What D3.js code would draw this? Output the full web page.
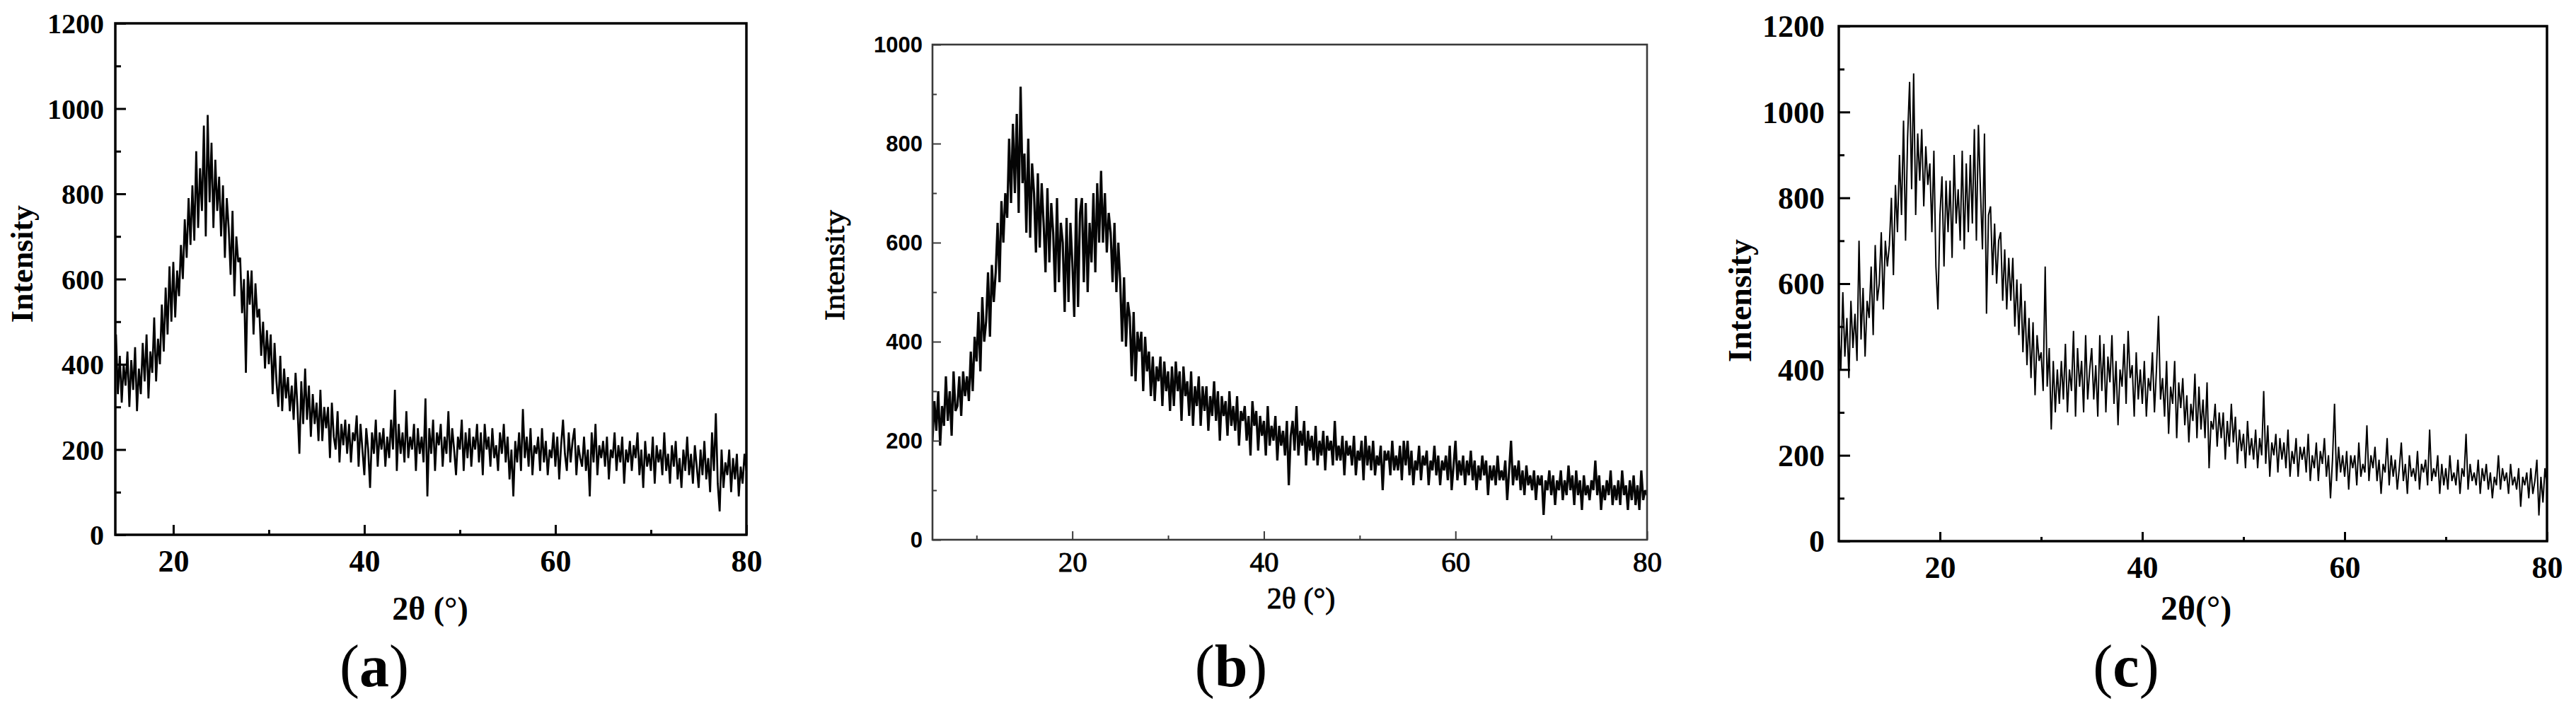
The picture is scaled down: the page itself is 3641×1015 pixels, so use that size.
<!DOCTYPE html>
<html><head><meta charset="utf-8">
<script src="https://cdn.jsdelivr.net/npm/d3@7"></script>
<style>html,body{margin:0;padding:0;background:#fff;} svg{display:block;}</style>
</head><body>
<svg id="chart" width="3641" height="1015"></svg>
<script>
// ---------- DATA ----------
// Panel (a): 2θ from 14.0 to 80.0, step 0.2
const aStart = 14.0, aStep = 0.2;
const aIntensity = [
470,330,420,310,400, 350,430,300,410,340, 440,290,390,330,450, 360,470,320,430,380,
510,360,460,400,540, 430,580,470,630,500, 640,510,620,560,680, 600,740,650,790,680,
820,690,900,720,860, 760,960,700,985,780, 920,720,880,760,840, 700,820,650,790,720,
610,760,560,700,640, 650,520,600,380,620, 540,620,470,590,510, 530,420,500,390,480,
400,470,330,450,360, 300,420,290,390,320, 370,290,350,270,380, 300,190,360,260,390,
270,350,230,330,260, 310,220,340,220,300, 250,300,180,310,230, 200,290,170,260,210,
270,190,260,170,240, 220,280,160,260,200, 140,250,200,110,240, 190,270,160,240,200,
250,160,230,180,270, 200,340,150,260,190, 240,170,290,180,230, 200,260,150,250,190,
230,170,320,90,250, 190,270,150,240,210, 260,160,230,190,290, 170,250,200,140,230,
200,270,150,240,180, 250,160,230,200,260, 170,240,140,260,200, 230,160,250,180,210,
150,240,190,260,170, 230,130,200,90,220, 170,240,150,295,180, 230,160,250,140,210,
190,230,150,250,170, 220,140,200,180,240, 160,230,130,210,270, 190,150,240,170,220,
250,140,210,180,160, 230,150,200,90,240, 170,260,140,210,180, 220,160,230,130,200,
180,240,150,210,170, 230,120,200,170,220, 150,210,180,240,140, 200,110,220,160,190,
150,230,120,210,170, 200,140,240,150,190, 120,210,160,220,130, 180,110,200,150,230,
140,190,120,210,160, 110,200,140,220,130, 180,100,240,150,285, 120,55,200,110,170,
140,200,100,180,130, 190,90,160,120,190, 150
];

// Panel (b): 2θ from 5.4 to 80.0, step 0.2
const bStart = 5.4, bStep = 0.2;
const bIntensity = [
200,280,220,
300,190,270,230,330, 240,300,210,340,260, 270,330,250,340,290, 330,280,380,300,410,
360,460,340,490,400, 440,540,410,555,480, 540,640,520,684,600, 700,650,810,680,840,
700,860,660,915,720, 780,620,810,610,760, 700,580,740,590,720, 640,540,710,560,680,
620,500,690,520,640, 600,460,650,480,640, 560,450,690,470,660, 690,520,680,500,640,
560,700,540,720,600, 745,600,700,580,660, 620,520,640,500,600, 520,400,530,390,480,
450,330,460,320,420, 380,420,300,410,340, 380,290,370,280,350, 320,370,270,360,300,
340,260,350,270,360, 300,340,240,350,290, 320,250,340,230,310, 270,330,230,310,260,
310,220,290,250,320, 240,300,200,290,250, 280,210,300,230,270, 220,290,190,260,240,
270,200,250,170,280, 230,260,180,250,210, 240,170,270,190,230, 200,250,160,230,190,
220,170,240,110,210, 240,180,270,170,220, 190,240,150,220,180, 210,160,230,150,200,
170,220,140,210,180, 200,150,240,160,190, 160,210,130,200,170, 190,150,210,130,180,
160,200,120,210,150, 190,140,200,130,170, 150,190,100,180,160, 180,130,200,140,170,
140,190,120,200,150, 200,130,180,110,160, 140,190,120,170,150, 180,110,160,140,190,
130,170,110,160,140, 170,120,190,100,150, 200,120,160,130,170, 110,160,130,180,120,
160,100,150,120,170, 130,160,90,150,120, 150,110,170,120,140, 120,160,80,140,200,
110,150,120,160,100, 140,90,150,110,130, 100,140,80,130,110, 130,50,120,100,140,
90,130,70,120,100, 140,80,120,90,150, 100,130,70,140,90, 120,60,130,90,110,
80,120,100,160,90, 130,60,110,80,120, 90,140,70,110,80, 120,70,140,90,110,
60,120,80,130,70, 110,60,140,80,100, 90
];

// Panel (c): 2θ from 10.0 to 80.0, step 0.2
const cStart = 10.0, cStep = 0.2;
const cIntensity = [
490,400,580,430,520, 380,560,450,530,420, 700,470,590,430,560, 520,640,480,690,560,
600,720,540,700,640, 690,800,620,830,720, 900,760,980,700,940, 1070,820,1090,760,950,
840,960,780,920,830, 880,720,910,640,540, 760,850,640,840,720, 840,660,900,740,820,
700,910,680,880,720, 900,740,960,700,970, 820,680,950,530,760, 780,620,740,600,700,
720,560,680,540,660, 560,660,500,610,480, 600,440,560,410,520, 380,510,340,480,420,
440,350,640,360,450, 260,420,300,400,320, 420,330,460,300,400, 350,490,290,450,360,
420,300,480,330,400, 450,330,410,290,480, 350,460,300,430,370, 480,320,420,270,400,
360,460,320,490,380, 410,290,440,330,400, 320,420,290,380,350, 440,300,400,525,330,
380,290,420,250,360, 320,420,240,370,310, 380,270,340,230,320, 280,390,240,360,260,
330,240,370,170,280, 260,320,220,300,240, 300,190,280,220,320, 230,290,180,260,210,
250,170,280,200,240, 190,260,170,240,200, 350,180,270,150,230, 200,250,160,240,190,
230,170,260,150,210, 180,240,150,220,190, 220,160,250,140,200, 170,230,140,210,180,
240,150,200,100,190, 320,140,220,160,200, 150,210,120,200,170, 200,130,230,150,180,
160,270,140,200,170, 220,140,190,110,180, 160,240,130,200,150, 190,120,170,230,140,
180,110,200,150,170, 140,210,120,180,160, 190,130,260,140,170, 150,200,110,180,130,
170,120,200,140,160, 130,190,110,170,150, 250,120,180,140,160, 130,190,110,170,140,
180,120,160,100,150, 130,200,120,170,140, 160,110,180,130,150, 120,170,80,150,130,
160,100,170,110,140, 190,60,150,90,170, 130
];

// Tick values
const aYMajor = [0,200,400,600,800,1000,1200], aYMinor = [100,300,500,700,900,1100];
const bYMajor = [0,200,400,600,800,1000],     bYMinor = [100,300,500,700,900];
const cYMajor = [0,200,400,600,800,1000,1200], cYMinor = [100,300,500,700,900,1100];
const aXMajor = [20,40,60,80], aXMinor = [30,50,70];
const bXMajor = [20,40,60,80], bXMinor = [10,30,50,70];
const cXMajor = [20,40,60,80], cXMinor = [30,50,70];
const panelLetters = ["a","b","c"];
const yTitles = ["Intensity","Intensity","Intensity"];
const xTitles = ["2θ (°)","2θ (°)","2θ(°)"];

// ---------- LAYOUT / STYLE ----------
const SERIF = "'Liberation Serif','Times New Roman',serif";
const SANS = "'Liberation Sans',Arial,sans-serif";
const panels = [
  { id:"a", values:aIntensity, start:aStart, step:aStep, xDomain:[13.93,80], yDomain:[0,1200],
    box:{l:163,t:33,r:1055,b:756}, yMajor:aYMajor, yMinor:aYMinor, xMajor:aXMajor, xMinor:aXMinor,
    frameColor:"#000", frameW:3.5, lineColor:"#000", lineW:2.7,
    majorLen:15, minorLen:8, xMajorLen:14, xMinorLen:7, tickW:3,
    yTickFont:{f:SERIF,s:40,w:"bold"}, yPad:16, xTickFont:{f:SERIF,s:44,w:"bold"}, xBase:52,
    yTitle:{x:46,y:373,s:44,w:"bold",f:SERIF}, xTitle:{x:608,y:862,s:46,w:"bold",f:SERIF},
    letter:{x:529,y:950} },
  { id:"b", values:bIntensity, start:bStart, step:bStep, xDomain:[5.4,80], yDomain:[0,1000],
    box:{l:1318,t:63,r:2328,b:763}, yMajor:bYMajor, yMinor:bYMinor, xMajor:bXMajor, xMinor:bXMinor,
    frameColor:"#3a3a3a", frameW:2.6, lineColor:"#050505", lineW:3.2,
    majorLen:12, minorLen:6, xMajorLen:12, xMinorLen:6, tickW:2,
    yTickFont:{f:SANS,s:31,w:"bold"}, yPad:14, xTickFont:{f:SERIF,s:41,w:"normal",stroke:0.9}, xBase:45,
    yTitle:{x:1193,y:375,s:40,w:"normal",f:SERIF,stroke:0.9,len:156}, xTitle:{x:1839,y:847,s:42,w:"normal",f:SERIF,stroke:0.9},
    letter:{x:1740,y:950} },
  { id:"c", values:cIntensity, start:cStart, step:cStep, xDomain:[10,80], yDomain:[0,1200],
    box:{l:2599,t:37,r:3600,b:765}, yMajor:cYMajor, yMinor:cYMinor, xMajor:cXMajor, xMinor:cXMinor,
    frameColor:"#000", frameW:3.5, lineColor:"#000", lineW:2.0,
    majorLen:16, minorLen:8, xMajorLen:13, xMinorLen:6, tickW:3,
    yTickFont:{f:SERIF,s:44,w:"bold"}, yPad:20, xTickFont:{f:SERIF,s:44,w:"bold"}, xBase:52,
    yTitle:{x:2475,y:425,s:46,w:"bold",f:SERIF}, xTitle:{x:3104,y:862,s:48,w:"bold",f:SERIF},
    letter:{x:3005,y:950} }
];

const svg = d3.select("#chart");
svg.append("rect").attr("width",3641).attr("height",1015).attr("fill","#fff");

function styleText(sel, font) {
  sel.attr("font-family", font.f).attr("font-size", font.s).attr("font-weight", font.w).attr("fill", "#000");
  if (font.stroke) sel.attr("stroke", "#000").attr("stroke-width", font.stroke);
}

panels.forEach((p, idx) => {
  const g = svg.append("g").attr("class", "panel-" + p.id);
  const x = d3.scaleLinear().domain(p.xDomain).range([p.box.l, p.box.r]);
  const y = d3.scaleLinear().domain(p.yDomain).range([p.box.b, p.box.t]);

  const clipId = "clip-" + p.id;
  svg.append("clipPath").attr("id", clipId).append("rect")
    .attr("x", p.box.l).attr("y", p.box.t - 2)
    .attr("width", p.box.r - p.box.l).attr("height", p.box.b - p.box.t + 2);

  const pts = p.values.map((v, i) => [p.start + i * p.step, v]);
  const line = d3.line().x(d => x(d[0])).y(d => y(d[1]));
  g.append("path").datum(pts).attr("d", line)
    .attr("fill", "none").attr("stroke", p.lineColor).attr("stroke-width", p.lineW)
    .attr("stroke-linejoin", "miter").attr("stroke-miterlimit", 3)
    .attr("clip-path", `url(#${clipId})`);

  // minor ticks (inward)
  const xMin = g.append("g").attr("transform", `translate(0,${p.box.b})`)
    .call(d3.axisBottom(x).tickValues(p.xMinor).tickSize(-p.xMinorLen).tickFormat(""));
  const yMin = g.append("g").attr("transform", `translate(${p.box.l},0)`)
    .call(d3.axisLeft(y).tickValues(p.yMinor).tickSize(-p.minorLen).tickFormat(""));
  // major ticks with labels
  const xMaj = g.append("g").attr("transform", `translate(0,${p.box.b})`)
    .call(d3.axisBottom(x).tickValues(p.xMajor).tickSize(-p.xMajorLen).tickPadding(0).tickFormat(d3.format("d")));
  const yMaj = g.append("g").attr("transform", `translate(${p.box.l},0)`)
    .call(d3.axisLeft(y).tickValues(p.yMajor).tickSize(-p.majorLen).tickPadding(p.yPad).tickFormat(d3.format("d")));

  [xMin, yMin, xMaj, yMaj].forEach(ax => {
    ax.select(".domain").remove();
    ax.selectAll(".tick line").attr("stroke", p.frameColor).attr("stroke-width", p.tickW);
  });
  xMaj.selectAll(".tick text").attr("y", p.xBase).attr("dy", null).call(styleText, p.xTickFont);
  yMaj.selectAll(".tick text").attr("dy", "0.34em").call(styleText, p.yTickFont);

  // frame
  g.append("rect").attr("x", p.box.l).attr("y", p.box.t)
    .attr("width", p.box.r - p.box.l).attr("height", p.box.b - p.box.t)
    .attr("fill", "none").attr("stroke", p.frameColor).attr("stroke-width", p.frameW);

  // y title
  const yt = g.append("text").text(yTitles[idx])
    .attr("transform", `translate(${p.yTitle.x},${p.yTitle.y}) rotate(-90)`)
    .attr("text-anchor", "middle")
    .call(styleText, {f:p.yTitle.f, s:p.yTitle.s, w:p.yTitle.w, stroke:p.yTitle.stroke});
  if (p.yTitle.len) yt.attr("textLength", p.yTitle.len).attr("lengthAdjust", "spacingAndGlyphs");

  // x title
  g.append("text").text(xTitles[idx])
    .attr("x", p.xTitle.x).attr("y", p.xTitle.y + 0.3 * p.xTitle.s)
    .attr("text-anchor", "middle")
    .call(styleText, {f:p.xTitle.f, s:p.xTitle.s, w:p.xTitle.w, stroke:p.xTitle.stroke});

  // panel letter
  const lt = g.append("text").attr("x", p.letter.x).attr("y", p.letter.y + 0.24 * 84)
    .attr("text-anchor", "middle").attr("font-family", SERIF).attr("font-size", 84).attr("fill", "#000");
  lt.append("tspan").text("(");
  lt.append("tspan").attr("font-weight", "bold").text(panelLetters[idx]);
  lt.append("tspan").text(")");
});
</script>
</body></html>
